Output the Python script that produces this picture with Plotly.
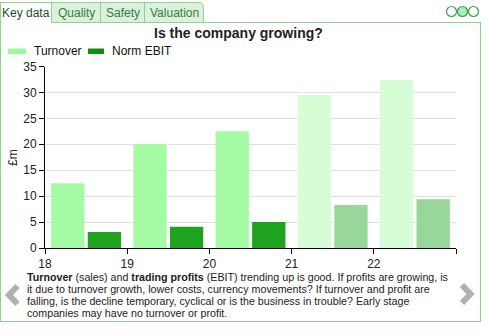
import plotly.graph_objects as go

# Financial years and values (£m); last two years are forecasts
years = [18, 19, 20, 21, 22]
turnover = [12.5, 20.0, 22.5, 29.5, 32.4]
norm_ebit = [3.1, 4.1, 5.0, 8.3, 9.4]
forecast = [False, False, False, True, True]

y_ticks = [0, 5, 10, 15, 20, 25, 30, 35]
x_ticks = [18, 19, 20, 21, 22, 23]
x_tick_text = ["18", "19", "20", "21", "22", ""]

tabs = ["Key data", "Quality", "Safety", "Valuation"]
title_text = "Is the company growing?"
caption_lines = [
    "<b>Turnover</b> (sales) and <b>trading profits</b> (EBIT) trending up is good. If profits are growing, is",
    "it due to turnover growth, lower costs, currency movements? If turnover and profit are",
    "falling, is the decline temporary, cyclical or is the business in trouble? Early stage",
    "companies may have no turnover or profit.",
]

W, H = 490, 335
FONT = "Liberation Sans, Arial, sans-serif"
GREEN_BORDER = "#8fd18f"
TAB_FILL = "#dcf0dc"

TURN_COL, TURN_FC = "#a4fba4", "#d6fdd6"
EBIT_COL, EBIT_FC = "#1fa21f", "#99d699"


def px(x):
    return x / W


def py(y):
    return 1 - y / H


fig = go.Figure()
x_pos = [y + 0.5 for y in years]
fig.add_bar(x=x_pos, y=turnover, name="Turnover",
            marker=dict(color=[TURN_FC if f else TURN_COL for f in forecast], line_width=0))
fig.add_bar(x=x_pos, y=norm_ebit, name="Norm EBIT",
            marker=dict(color=[EBIT_FC if f else EBIT_COL for f in forecast], line_width=0))

shapes = []
annotations = []

# outer panel
shapes.append(dict(type="rect", xref="paper", yref="paper", x0=px(0.5), x1=px(480.5),
                   y0=py(321.5), y1=py(22.5), line=dict(color=GREEN_BORDER, width=1.2)))

# tabs
tab_edges = [0.5, 51.5, 100.5, 144.5, 203.5]
for i, name in enumerate(tabs):
    x0, x1 = tab_edges[i], tab_edges[i + 1]
    active = i == 0
    fill = "white" if active else TAB_FILL
    if i == len(tabs) - 1:
        path = (f"M {px(x0)},{py(22.5)} L {px(x0)},{py(2.5)} L {px(x1-5)},{py(2.5)} "
                f"Q {px(x1)},{py(2.5)} {px(x1)},{py(7.5)} L {px(x1)},{py(22.5)} Z")
        shapes.append(dict(type="path", xref="paper", yref="paper", path=path,
                           fillcolor=fill, line=dict(color=GREEN_BORDER, width=1)))
    else:
        shapes.append(dict(type="rect", xref="paper", yref="paper", x0=px(x0), x1=px(x1),
                           y0=py(22.5), y1=py(2.5), fillcolor=fill,
                           line=dict(color=GREEN_BORDER, width=1)))
    if active:
        shapes.append(dict(type="line", xref="paper", yref="paper", x0=px(x0 + 1), x1=px(x1 - 0.5),
                           y0=py(22.5), y1=py(22.5), line=dict(color="white", width=2)))
    annotations.append(dict(text=name, xref="paper", yref="paper", x=px((x0 + x1) / 2),
                            y=py(13), xanchor="center", yanchor="middle", showarrow=False,
                            font=dict(family=FONT, size=12,
                                      color="#1f4f1f" if active else "#2f7f3f")))

# page indicator dots
for i, cx in enumerate([451.5, 462.5, 473.5]):
    shapes.append(dict(type="circle", xref="paper", yref="paper", x0=px(cx - 5), x1=px(cx + 5),
                       y0=py(11.5 + 5), y1=py(11.5 - 5),
                       fillcolor="#a8efbf" if i == 1 else "white",
                       line=dict(color="#3c9c50", width=1.2)))

# navigation chevrons
shapes.append(dict(type="path", xref="paper", yref="paper",
                   path=f"M {px(17.5)},{py(286)} L {px(9)},{py(295)} L {px(17.5)},{py(304)}",
                   line=dict(color="#b0b0b0", width=6)))
shapes.append(dict(type="path", xref="paper", yref="paper",
                   path=f"M {px(462)},{py(285)} L {px(470.5)},{py(294)} L {px(462)},{py(303)}",
                   line=dict(color="#b0b0b0", width=6)))

# legend
shapes.append(dict(type="rect", xref="paper", yref="paper", x0=px(8), x1=px(26),
                   y0=py(54), y1=py(48.5), fillcolor="#a0f6a0", line_width=0))
shapes.append(dict(type="rect", xref="paper", yref="paper", x0=px(88), x1=px(104),
                   y0=py(54), y1=py(48.5), fillcolor="#0f900f", line_width=0))
annotations.append(dict(text="Turnover", xref="paper", yref="paper", x=px(32), y=py(51.5),
                        xanchor="left", yanchor="middle", showarrow=False,
                        font=dict(family=FONT, size=12, color="#111")))
annotations.append(dict(text="Norm EBIT", xref="paper", yref="paper", x=px(110), y=py(51.5),
                        xanchor="left", yanchor="middle", showarrow=False,
                        font=dict(family=FONT, size=12, color="#111")))

# title
annotations.append(dict(text=f"<b>{title_text}</b>", xref="paper", yref="paper", x=px(238.5),
                        y=py(33), xanchor="center", yanchor="middle", showarrow=False,
                        font=dict(family=FONT, size=14, color="#222")))

# y-axis title
annotations.append(dict(text="£m", xref="paper", yref="paper", x=px(13), y=py(158),
                        xanchor="center", yanchor="middle", showarrow=False, textangle=-90,
                        font=dict(family=FONT, size=12, color="#222")))

# explanatory caption
for i, line in enumerate(caption_lines):
    annotations.append(dict(text=line, xref="paper", yref="paper", x=px(25), y=py(277 + 11.9 * i),
                            xanchor="left", yanchor="middle", showarrow=False,
                            font=dict(family=FONT, size=10.7, color="#222")))

fig.update_layout(
    width=W, height=H,
    margin=dict(l=0, r=0, t=0, b=0, autoexpand=False),
    paper_bgcolor="white", plot_bgcolor="white",
    showlegend=False,
    barmode="group", bargap=0.11, bargroupgap=0.09,
    shapes=shapes, annotations=annotations,
    font=dict(family=FONT, size=12, color="#222"),
    xaxis=dict(domain=[px(45), px(456)], range=[18, 23], tickvals=x_ticks, ticktext=x_tick_text,
               ticks="outside", ticklen=5, tickcolor="black", showline=True, linecolor="black",
               linewidth=1, showgrid=False, zeroline=False, fixedrange=True, automargin=False),
    yaxis=dict(domain=[py(248), py(66.5)], range=[0, 35], tickvals=y_ticks,
               ticks="outside", ticklen=5, tickcolor="black", showline=True, linecolor="black",
               linewidth=1, showgrid=True, gridcolor="#e0e0e0", gridwidth=1, zeroline=False,
               fixedrange=True, automargin=False),
)

fig.write_html("out.html", config={"displayModeBar": False})
